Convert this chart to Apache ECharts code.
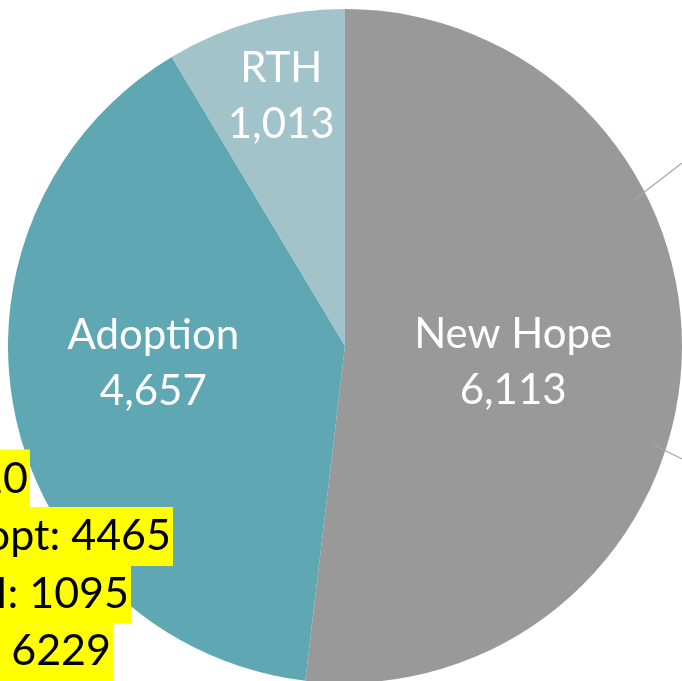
<!DOCTYPE html>
<html>
<head>
<meta charset="utf-8">
<title>Pie</title>
<script src="https://cdn.jsdelivr.net/npm/echarts@6/dist/echarts.min.js"></script>
<style>
  html, body { margin: 0; padding: 0; background: #fff; }
  #chart { width: 682px; height: 681px; }
</style>
</head>
<body>
<div id="chart"></div>
<script>
// slices, clockwise from 12 o'clock
const categories = ['New Hope', 'Adoption', 'RTH'];
const values = [6113, 4657, 1013];
// yellow note on the left (cut off by the frame)
const noteLines = ['20', 'opt: 4465', 'H: 1095', ': 6229'];

const colors = ['#999999', '#5fa7b3', '#a1c3c9'];
// nudge the inside labels to where Excel put them
const labelShift = [[-3, 6], [-24, -18], [-18, -84]];

const chart = echarts.init(document.getElementById('chart'));

let pieData = categories.map((name, i) => ({
  name: name,
  value: values[i],
  itemStyle: {color: colors[i]},
  label: {offset: labelShift[i]}
}));

// note lines, right-aligned, with yellow boxes
let notes = noteLines.map((t, i) => ({
  type: 'text',
  x: [30, 173, 131, 113][i],
  y: 479 + i * 57.5,
  z: 10,
  style: {
    text: t,
    align: 'right',
    verticalAlign: 'middle',
    fontFamily: 'Lato',
    fontSize: 43,
    lineHeight: 50,
    fill: '#000',
    backgroundColor: '#ffff00',
    padding: [4.5, 2, 4.5, 60]
  }
}));

// the two leader lines going off to the right
let leaders = [
  [[634, 200], [682, 163]],
  [[652, 444], [682, 459]]
].map(pts => ({
  type: 'polyline',
  z: 5,
  shape: {points: pts},
  style: {stroke: '#a6a6a6', lineWidth: 1.2, fill: null}
}));

chart.setOption({
  animation: false,
  backgroundColor: '#ffffff',
  series: [{
    type: 'pie',
    center: [345, 346],
    radius: [0, 337],
    startAngle: 90,
    clockwise: true,
    avoidLabelOverlap: false,
    emphasis: {disabled: true},
    label: {
      show: true,
      position: 'inside',
      color: '#ffffff',
      fontFamily: 'Lato',
      fontSize: 42,
      lineHeight: 56,
      formatter: p => p.name + '\n' + p.value.toLocaleString('en-US')
    },
    labelLine: {show: false},
    data: pieData
  }],
  graphic: leaders.concat(notes)
});
</script>
</body>
</html>
